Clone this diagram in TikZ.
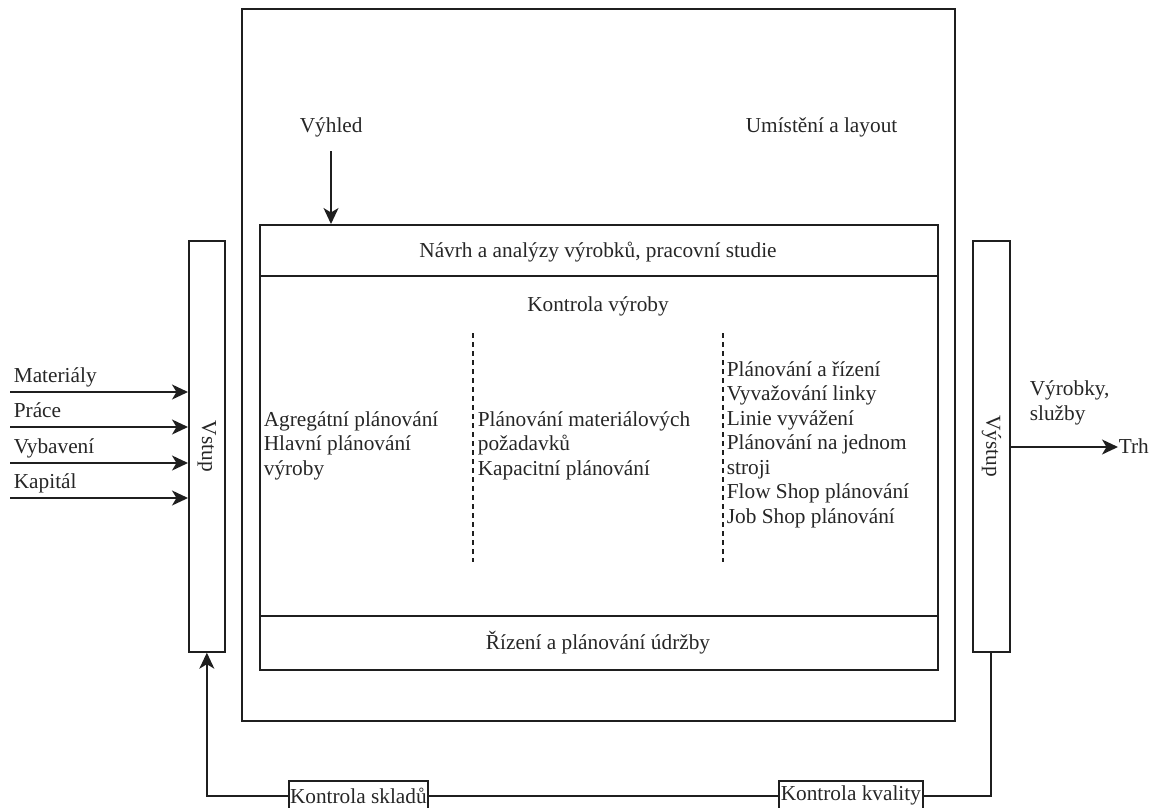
\documentclass[tikz,border=0pt]{standalone}
\usepackage{fontspec}
\setmainfont{Liberation Serif}
\usetikzlibrary{arrows.meta}
\begin{document}
\begin{tikzpicture}[x=1pt,y=-1pt,
  line width=1.7pt, color=black!88,
  tip/.style={-{Stealth[length=16pt,width=15pt,inset=4.5pt]}},
  lbl/.style={inner sep=0pt, font=\fontsize{21.3}{24.5}\selectfont, text=black!85},
  col/.style={lbl, align=left, anchor=base west},
  frame/.style={draw, line width=1.7pt, inner sep=0pt},
  sep/.style={line width=1.6pt, dash pattern=on 5pt off 4pt}]
\useasboundingbox (0,0) rectangle (1156,807);

% outer frame and inner block
\draw (242,9) rectangle (955,721);
\node[frame, minimum width=678pt, minimum height=445pt, anchor=north west] (inner) at (259,224) {};
\draw (259,276) -- (937,276);
\draw (259,616) -- (937,616);

% Input / output columns
\node[frame, minimum width=36pt, minimum height=411pt, anchor=north west] (vstup) at (188,240) {};
\node[lbl, rotate=-90] at (vstup.center) {Vstup};
\node[frame, minimum width=37pt, minimum height=411pt, anchor=north west] (vystup) at (972,240) {};
\node[lbl, rotate=-90] at (vystup.center) {Výstup};

% Top labels
\node[lbl, anchor=base west] (vyhled) at (299,132) {Výhled};
\node[lbl, anchor=base west] (umisteni) at (745,132) {Umístění a layout};
\coordinate (vyhledtop) at (331,151);
\draw[tip] (vyhledtop) -- (331,224);

% Inner block texts
\node[lbl, anchor=base] (navrh) at (598,257) {Návrh a analýzy výrobků, pracovní studie};
\node[lbl, anchor=base] (kontrola) at (598,311) {Kontrola výroby};
\node[lbl, anchor=base] (udrzba) at (598,649) {Řízení a plánování údržby};

\draw[sep] (473,333) -- (473,562);
\draw[sep] (723,333) -- (723,562);

% multi-line columns are anchored at the baseline of their last line
\node[col] (c1) at (263,475) {Agregátní plánování\\Hlavní plánování\\výroby};
\node[col] (c2) at (477,475) {Plánování materiálových\\požadavků\\Kapacitní plánování};
\node[col] (c3) at (726,523) {Plánování a řízení\\Vyvažování linky\\Linie vyvážení\\Plánování na jednom\\stroji\\Flow Shop plánování\\Job Shop plánování};

% Inputs
\foreach \t/\y [count=\i] in {Materiály/392, Práce/427, Vybavení/463, Kapitál/498}{
  \coordinate (in\i) at (10,\y);
  \node[lbl, anchor=base west] (inl\i) at (13,\y-10) {\t};
  \draw[tip] (in\i) -- (vstup.west |- in\i);
}

% Output
\node[lbl, anchor=base west] (trh) at (1118,453) {Trh};
\draw[tip] (vystup.east |- 0,447) -- (trh.west |- 0,447);
\node[col] (vyrobky) at (1029,420) {Výrobky,\\služby};

% Feedback loop
\node[frame, minimum width=139pt, minimum height=30pt, anchor=north west] (sklad) at (288,780) {};
\node[lbl] at (sklad.center) {Kontrola skladů};
\node[frame, minimum width=144pt, minimum height=30pt, anchor=north west] (kval) at (778,780) {};
\node[lbl] at (kval.center) {Kontrola kvality};
\draw (991,651) |- (kval.east);
\draw (kval.west) -- (sklad.east);
\draw[tip] (sklad.west) -| (vstup.south);
\end{tikzpicture}
\end{document}
